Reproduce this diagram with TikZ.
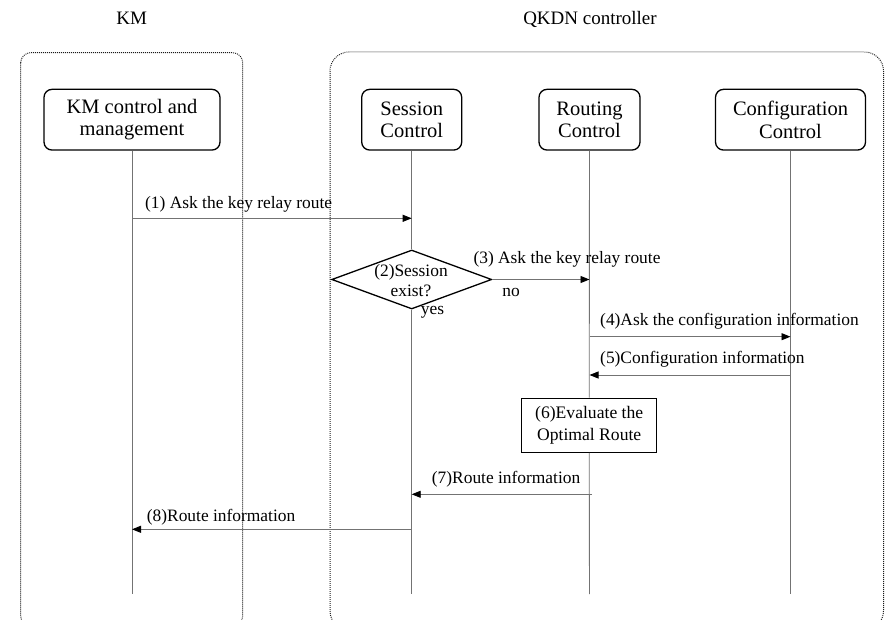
\documentclass[tikz,border=0pt]{standalone}
\usepackage{fontspec}
\setmainfont{Liberation Serif}
\usetikzlibrary{arrows.meta,shapes.geometric}

\tikzset{
  container/.style={draw=black!90, line width=1pt, dash pattern=on 0.9pt off 1.1pt},
  actor/.style={draw=black, line width=1.3pt, rounded corners=8pt, align=center,
    minimum height=60.7pt, inner sep=2pt, font=\fontsize{20.5}{22.7}\selectfont},
  lifeline/.style={draw=black!55, line width=0.9pt},
  msgarrow/.style={draw=black!55, line width=0.9pt,
    -{Triangle[length=9pt,width=7pt,color=black]}},
  msgtext/.style={inner sep=0pt, anchor=base west, font=\fontsize{17.4}{20}\selectfont},
  decision/.style={draw=black, line width=1.3pt, diamond, inner sep=0pt,
    minimum width=160pt, minimum height=59pt},
  process/.style={draw=black, line width=1.3pt, align=center, inner sep=0pt,
    minimum width=135pt, minimum height=54pt, font=\fontsize{17.6}{21.7}\selectfont},
  heading/.style={inner sep=0pt, anchor=base, font=\fontsize{19}{22}\selectfont}
}

\begin{document}
\begin{tikzpicture}[x=1pt,y=-1pt]
\useasboundingbox (0,0) rectangle (885,620);

% domain frames, running past the lower edge
\begin{scope}
  \clip (0,0) rectangle (885,620);
  \draw[container, rounded corners=10pt] (20.7,52.7) rectangle (242.7,626);
  \draw[container, rounded corners=19pt] (330,52) rectangle (883.5,630);
\end{scope}

% domain titles
\node[heading] (tkm) at (131.7,24.3) {KM};
\node[heading] (tqkdn) at (590,24.3) {QKDN controller};

% participants
\node[actor, minimum width=176pt] (km) at (132,119.7) {KM control and\\management};
\node[actor, minimum width=100pt] (sc) at (411.7,119.7) {Session\\Control};
\node[actor, minimum width=101pt] (rc) at (589.5,119.7) {Routing\\Control};
\node[actor, minimum width=150pt] (cc) at (790.5,119.7) {Configuration\\Control};

% decision and processing step
\node[decision] (dec) at (411.7,279.5) {};
\node[inner sep=0pt, align=center, font=\fontsize{17.4}{20}\selectfont] (dectext) at (411,281) {(2)Session\\exist?};
\node[process] (eval) at (589.2,425.2) {(6)Evaluate the\\Optimal Route};

% lifeline ends
\coordinate (kmend) at (132,594);
\coordinate (scend) at (411.7,594);
\coordinate (rcend) at (589.5,594);
\coordinate (ccend) at (790.5,594);

\draw[lifeline] (km.south) -- (kmend);
\draw[lifeline] (sc.south) -- (dec.north);
\draw[lifeline] (dec.south) -- (scend);
\draw[lifeline] (rc.south) -- (eval.north);
\draw[lifeline] (eval.south) -- (rcend);
\draw[lifeline] (cc.south) -- (ccend);

% message end points on the lifelines
\coordinate (m1a) at (132,218.3);   \coordinate (m1b) at (411.7,218.3);
\coordinate (m3b) at (589.5,279.5);
\coordinate (m4a) at (589.5,336.7); \coordinate (m4b) at (790.5,336.7);
\coordinate (m5a) at (790.5,375);   \coordinate (m5b) at (589.5,375);
\coordinate (m7a) at (592,494.3);   \coordinate (m7b) at (411.7,494.3);
\coordinate (m8a) at (411.7,529.3); \coordinate (m8b) at (132,529.3);

% messages
\draw[msgarrow] (m1a) -- (m1b);
\draw[msgarrow] (dec.east) -- (m3b);
\draw[msgarrow] (m4a) -- (m4b);
\draw[msgarrow] (m5a) -- (m5b);
\draw[msgarrow] (m7a) -- (m7b);
\draw[msgarrow] (m8a) -- (m8b);

% message labels
\node[msgtext] (t1) at (145,208.3) {(1) Ask the key relay route};
\node[msgtext] (t3) at (473.3,263) {(3) Ask the key relay route};
\node[msgtext, anchor=center] (tno) at (511,292) {no};
\node[msgtext, anchor=center] (tyes) at (432.5,312) {yes};
\node[msgtext] (t4) at (600,325) {(4)Ask the configuration information};
\node[msgtext] (t5) at (600,363.3) {(5)Configuration information};
\node[msgtext] (t7) at (431.7,483.3) {(7)Route information};
\node[msgtext] (t8) at (146.7,521.7) {(8)Route information};
\end{tikzpicture}
\end{document}
